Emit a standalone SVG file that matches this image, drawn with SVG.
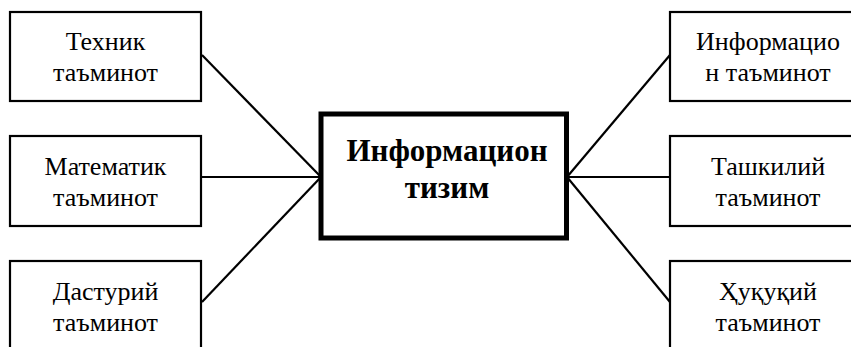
<svg xmlns="http://www.w3.org/2000/svg" width="851" height="347" viewBox="0 0 851 347">
<style>
.box{fill:#fff;stroke:#000;stroke-width:2.2}
.main{fill:#fff;stroke:#000;stroke-width:5}
.t{font-family:'Liberation Serif','DejaVu Serif',serif;font-size:26px;font-weight:normal;fill:#000;text-anchor:middle}
.tb{font-family:'Liberation Serif','DejaVu Serif',serif;font-size:31px;font-weight:bold;fill:#000;text-anchor:middle}
.c{stroke:#000;stroke-width:2.2;fill:none}
</style>
<rect width="851" height="347" fill="#fff"/>
<g id="connectors">
<line class="c" x1="202" y1="55" x2="321" y2="177"/>
<line class="c" x1="202" y1="177" x2="321" y2="177"/>
<line class="c" x1="202" y1="302" x2="321" y2="177"/>
<line class="c" x1="670" y1="55" x2="567" y2="177"/>
<line class="c" x1="670" y1="177" x2="567" y2="177"/>
<line class="c" x1="670" y1="302" x2="567" y2="177"/>
</g>
<g id="n-center">
<rect class="main" x="321" y="114" width="245.5" height="124"/>
<text class="tb" x="447" y="161">Информацион</text>
<text class="tb" x="447" y="198">тизим</text>
</g>
<g id="n-technik">
<rect class="box" x="10" y="12" width="191" height="89"/>
<text class="t" x="105.5" y="50">Техник</text>
<text class="t" x="105.5" y="81">таъминот</text>
</g>
<g id="n-matematik">
<rect class="box" x="10" y="136" width="191" height="90"/>
<text class="t" x="105.5" y="175">Математик</text>
<text class="t" x="105.5" y="206">таъминот</text>
</g>
<g id="n-dasturiy">
<rect class="box" x="10" y="261" width="191" height="100"/>
<text class="t" x="105.5" y="300">Дастурий</text>
<text class="t" x="105.5" y="331">таъминот</text>
</g>
<g id="n-informatsion">
<rect class="box" x="670" y="12" width="191" height="89"/>
<text class="t" x="768" y="50">Информацио</text>
<text class="t" x="768" y="81">н таъминот</text>
</g>
<g id="n-tashkiliy">
<rect class="box" x="670" y="136" width="191" height="90"/>
<text class="t" x="768" y="175">Ташкилий</text>
<text class="t" x="768" y="206">таъминот</text>
</g>
<g id="n-huquqiy">
<rect class="box" x="670" y="261" width="191" height="100"/>
<text class="t" x="768" y="300">Ҳуқуқий</text>
<text class="t" x="768" y="331">таъминот</text>
</g>
</svg>
